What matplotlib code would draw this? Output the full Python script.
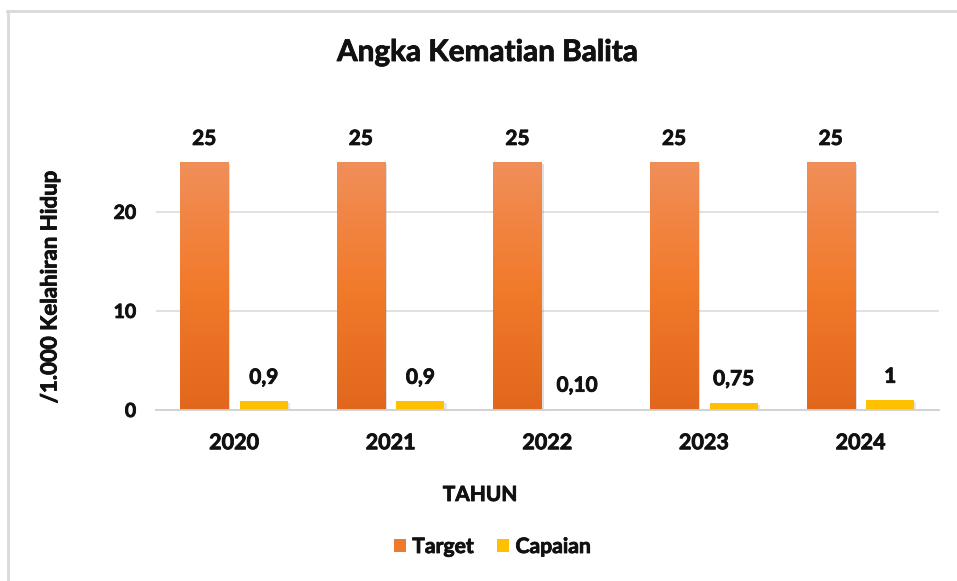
import matplotlib
matplotlib.use("Agg")
import matplotlib.pyplot as plt
import numpy as np
from matplotlib.colors import LinearSegmentedColormap
from matplotlib.lines import Line2D
from matplotlib.patches import Patch
import matplotlib.patheffects as pe

# ---- data ----
years = ["2020", "2021", "2022", "2023", "2024"]
target = [25, 25, 25, 25, 25]
capaian = [0.9, 0.9, 0.10, 0.75, 1]
target_labels = ["25", "25", "25", "25", "25"]
capaian_labels = ["0,9", "0,9", "0,10", "0,75", "1"]
yticks = [0, 10, 20]

plt.rcParams['font.family'] = ['Lato', 'DejaVu Sans']
plt.rcParams['font.weight'] = 'bold'

TXT = '#111111'
heavy = [pe.withStroke(linewidth=0.6, foreground=TXT)]

W, H = 957, 581
fig = plt.figure(figsize=(W / 100, H / 100), dpi=100)
fig.patch.set_facecolor('white')

ax_l, ax_r, ax_b, ax_t = 155.7, 938.8, 410, 162.3
ax = fig.add_axes([ax_l / W, 1 - ax_b / H, (ax_r - ax_l) / W, (ax_b - ax_t) / H])

x = np.arange(len(years))
bw = 0.307
off = 0.19
orange_cmap = LinearSegmentedColormap.from_list(
    "og", ["#E1671C", "#F27A2B", "#F08F59"])

tbars = ax.bar(x - off, target, bw, color="#EE7A30", zorder=3,
               path_effects=[pe.SimplePatchShadow(offset=(1.5, -1.5), alpha=0.25, shadow_rgbFace='gray'),
                             pe.Normal()])
grad = np.linspace(0, 1, 256).reshape(-1, 1)
for b in tbars:
    x0, y0 = b.get_x(), b.get_y()
    im = ax.imshow(grad, cmap=orange_cmap, aspect='auto', origin='lower',
                   extent=[x0, x0 + b.get_width(), y0, y0 + b.get_height()],
                   zorder=3.5)
    im.set_clip_path(b)

cbars = ax.bar(x + off, capaian, bw, color="#FFC000", zorder=3,
               path_effects=[pe.SimplePatchShadow(offset=(1.5, -1.5), alpha=0.2, shadow_rgbFace='gray'),
                             pe.Normal()])

for bars, labels in ((tbars, target_labels), (cbars, capaian_labels)):
    for b, lab in zip(bars, labels):
        ax.annotate(lab, (b.get_x() + b.get_width() / 2, b.get_height()),
                    xytext=(0, 12.5), textcoords='offset points', ha='center',
                    va='baseline', fontsize=15, fontweight='bold', color=TXT,
                    annotation_clip=False, zorder=5, path_effects=heavy)

ax.set_xlim(-0.5, len(years) - 0.5)
ax.set_ylim(0, 25)
ax.set_yticks(yticks)
ax.set_xticks(x)
ax.set_xticklabels(years)
ax.tick_params(axis='x', length=0, pad=16, labelsize=15.5, colors=TXT)
ax.tick_params(axis='y', length=0, pad=14, labelsize=14, colors=TXT)
for lbl in ax.get_xticklabels() + ax.get_yticklabels():
    lbl.set_fontweight('bold')
    lbl.set_path_effects(heavy)
ax.yaxis.grid(True, color='#D9D9D9', linewidth=1.1, zorder=0)
ax.set_axisbelow(True)
for s in ['top', 'right', 'left']:
    ax.spines[s].set_visible(False)
ax.spines['bottom'].set_color('#D0D0D0')
ax.spines['bottom'].set_linewidth(1.3)
ax.spines['bottom'].set_zorder(4)

fig.text(487.5 / W, 1 - 52 / H, "Angka Kematian Balita", ha='center', va='center',
         fontsize=21.4, fontweight='bold', color=TXT, path_effects=heavy)
fig.text(50 / W, 1 - 287 / H, "/1.000 Kelahiran Hidup", ha='center', va='center',
         rotation=90, fontsize=16, fontweight='bold', color=TXT, path_effects=heavy)
fig.text(480 / W, 1 - 495 / H, "TAHUN", ha='center', va='center',
         fontsize=15, fontweight='bold', color=TXT, path_effects=heavy)

handles = [Patch(facecolor="#EE7A30", edgecolor='none', label="Target"),
           Patch(facecolor="#FFC000", edgecolor='none', label="Capaian")]
leg = fig.legend(handles=handles, loc='center', bbox_to_anchor=(492 / W, 1 - 547 / H),
                 ncol=2, frameon=False, handlelength=0.58, handleheight=0.58,
                 handletextpad=0.3, columnspacing=1.1, prop={'weight': 'bold', 'size': 15.2})
for t in leg.get_texts():
    t.set_color(TXT)
    t.set_path_effects(heavy)

# outer chart border (top and left visible)
fig.add_artist(Line2D([7 / W, 1], [1 - 11 / H, 1 - 11 / H], transform=fig.transFigure,
                      color='#D9D9D9', linewidth=2))
fig.add_artist(Line2D([8 / W, 8 / W], [0, 1 - 11 / H], transform=fig.transFigure,
                      color='#D9D9D9', linewidth=2))

fig.savefig("out.png", dpi=100, facecolor='white')
